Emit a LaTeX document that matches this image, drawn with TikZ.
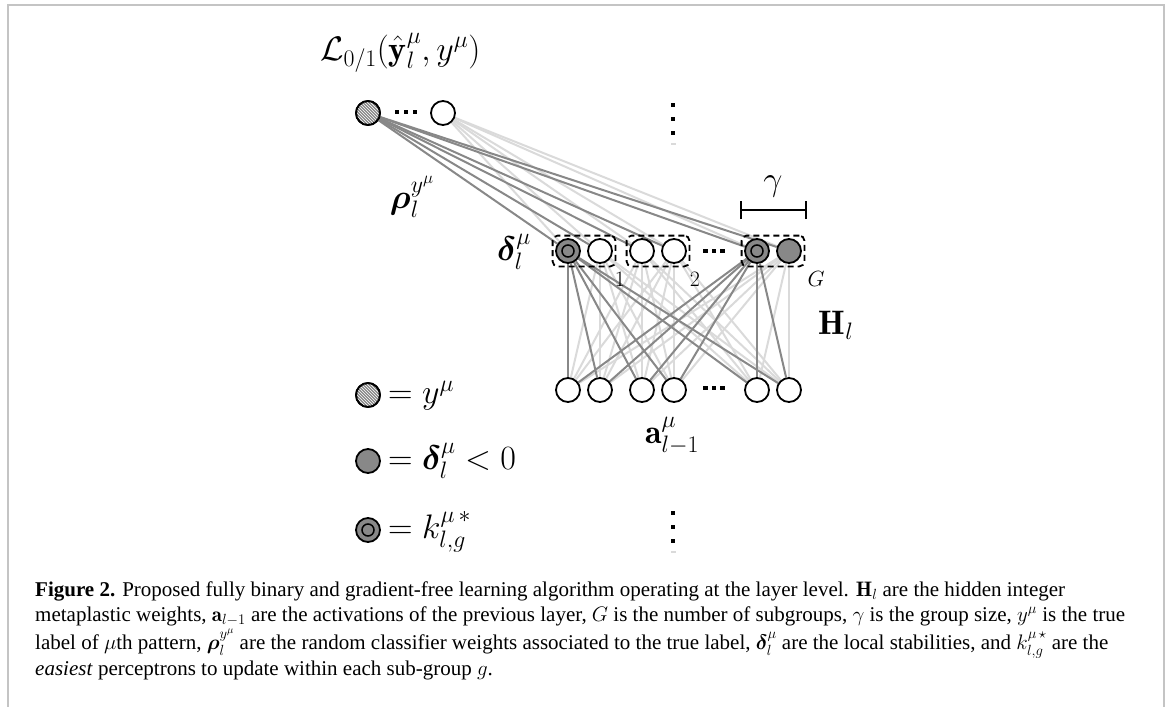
\RequirePackage{fix-cm}
\documentclass[tikz,border=0pt]{standalone}
\usepackage{amsmath}
\usepackage{bm}
\usepackage{fontspec}
\newfontfamily\capfont{Liberation Serif}
\usetikzlibrary{patterns,fit}
\definecolor{midgray}{RGB}{136,136,136}
\definecolor{lightline}{RGB}{218,218,218}
\definecolor{framegray}{RGB}{196,196,196}
\pgfdeclarelayer{bg}
\pgfsetlayers{bg,main}
\tikzset{
 neuron/.style={circle,draw=black,line width=1.8pt,minimum size=24pt,inner sep=0pt,fill=white},
 negn/.style={neuron,fill=midgray},
 hatchn/.style={neuron,fill=midgray,postaction={pattern=north west lines,pattern color=white},postaction={draw=black,line width=1.8pt}},
 kstar/.style={neuron,fill=midgray,path picture={\draw[line width=1.5pt,fill=midgray] (path picture bounding box.center) circle (6pt);}},
 darkw/.style={draw=midgray,line width=2pt},
 lightw/.style={draw=lightline,line width=2pt},
 groupbox/.style={draw=black,dash pattern=on 6pt off 4pt,line width=1.8pt,rounded corners=5pt,inner sep=2.5pt},
 dotsq/.style={fill=black,minimum size=4.5pt,inner sep=0pt,rectangle},
 lab/.style={inner sep=0pt,font=\fontsize{34}{38}\selectfont},
 small/.style={inner sep=0pt,font=\fontsize{22}{26}\selectfont},
 capline/.style={anchor=base west,inner sep=0pt,font=\capfont\fontsize{21}{25}\selectfont},
}
\begin{document}
\begin{tikzpicture}[x=1pt,y=-1pt]
\useasboundingbox (0,0) rectangle (1168,707);
% frame
\draw[framegray,line width=2pt] (7.5,707) -- (7.5,4.5) -- (1163.5,4.5) -- (1163.5,707);

% output layer
\node[hatchn] (o1) at (368,113) {};
\node[neuron] (o2) at (443,113) {};
\node[dotsq] (od1) at (397,112) {};
\node[dotsq] (od2) at (406,112) {};
\node[dotsq] (od3) at (415,112) {};
% vertical dots top
\node[dotsq] (vt1) at (673,105) {};
\node[dotsq] (vt2) at (673,119) {};
\node[dotsq] (vt3) at (673,133) {};
\node[fill=lightline,minimum width=5pt,minimum height=1.5pt,inner sep=0pt] (vt4) at (673,144) {};

% hidden layer
\node[kstar] (d1) at (568,251) {};
\node[neuron] (d2) at (600,251) {};
\node[neuron] (d3) at (642,251) {};
\node[neuron] (d4) at (674,251) {};
\node[kstar] (d5) at (757,251) {};
\node[negn] (d6) at (789,251) {};
\node[dotsq] (hd1) at (705.5,251) {};
\node[dotsq] (hd2) at (714,251) {};
\node[dotsq] (hd3) at (722.5,251) {};

\node[groupbox,fit=(d1)(d2)] (g1) {};
\node[groupbox,fit=(d3)(d4)] (g2) {};
\node[groupbox,fit=(d5)(d6)] (g3) {};
\node[small] (l1) at (620,279) {$1$};
\node[small] (l2) at (695,279) {$2$};
\node[small] (lG) at (816,279) {$G$};

% input layer
\node[neuron] (a1) at (568,390) {};
\node[neuron] (a2) at (600,390) {};
\node[neuron] (a3) at (642,390) {};
\node[neuron] (a4) at (674,390) {};
\node[neuron] (a5) at (757,390) {};
\node[neuron] (a6) at (789,390) {};
\node[dotsq] (ad1) at (705.5,388) {};
\node[dotsq] (ad2) at (714,388) {};
\node[dotsq] (ad3) at (722.5,388) {};

% vertical dots bottom
\node[dotsq] (vb1) at (673,513) {};
\node[dotsq] (vb2) at (673,527) {};
\node[dotsq] (vb3) at (673,541) {};
\node[fill=lightline,minimum width=5pt,minimum height=1.5pt,inner sep=0pt] (vb4) at (673,552) {};

% connections
\begin{pgfonlayer}{bg}
\foreach \d in {d1,d2,d3,d4,d5,d6} \draw[lightw] (o2) -- (\d);
\foreach \d in {d1,d2,d3,d4,d5,d6} \draw[darkw] (o1) -- (\d);
\foreach \d in {d2,d3,d4,d6} \foreach \a in {a1,a2,a3,a4,a5,a6} \draw[lightw] (\d) -- (\a);
\foreach \d in {d1,d5} \foreach \a in {a1,a2,a3,a4,a5,a6} \draw[darkw] (\d) -- (\a);
\end{pgfonlayer}

% gamma bar
\coordinate (gl) at (741,210);
\coordinate (gr) at (806,210);
\draw[line width=2pt] (gl) -- (gr);
\draw[line width=2pt] ([yshift=-9pt]gl) -- ([yshift=9pt]gl);
\draw[line width=2pt] ([yshift=-9pt]gr) -- ([yshift=9pt]gr);
\node[lab] (gam) at (773,186) {$\gamma$};

% labels
\node[lab,anchor=base west] (title) at (320,60) {$\mathcal{L}_{0/1}(\hat{\mathbf{y}}^{\mu}_{l}, y^{\mu})$};
\node[lab] (rho) at (412,197) {$\bm{\rho}^{y^{\mu}}_{l}$};
\node[lab] (del) at (514,252) {$\bm{\delta}^{\mu}_{l}$};
\node[lab] (H) at (836,325) {$\mathbf{H}_{l}$};
\node[lab] (alab) at (672,436) {$\mathbf{a}^{\mu}_{l-1}$};

% legend
\node[hatchn] (k1) at (368,395) {};
\node[negn] (k2) at (368,461) {};
\node[kstar] (k3) at (368,530) {};
\node[lab,anchor=base west] (t1) at (388,403.5) {$= y^{\mu}$};
\node[lab,anchor=base west] (t2) at (388,469.5) {$= \bm{\delta}^{\mu}_{l} < 0$};
\node[lab,anchor=base west] (t3) at (388,538.5) {$= k^{\mu\,*}_{l,g}$};

% caption
\node[capline] (c1) at (35,596) {\textbf{Figure 2.} Proposed fully binary and gradient-free learning algorithm operating at the layer level. $\mathbf{H}_l$ are the hidden integer};
\node[capline] (c2) at (35,621) {metaplastic weights, $\mathbf{a}_{l-1}$ are the activations of the previous layer, $G$ is the number of subgroups, $\gamma$ is the group size, $y^{\mu}$ is the true};
\node[capline] (c3) at (35,649) {label of $\mu$th pattern, $\bm{\rho}_l^{y^{\mu}}$ are the random classifier weights associated to the true label, $\bm{\delta}_l^{\mu}$ are the local stabilities, and $k_{l,g}^{\mu\,\star}$ are the};
\node[capline] (c4) at (35,675) {\textit{easiest} perceptrons to update within each sub-group $g$.};
\end{tikzpicture}
\end{document}
